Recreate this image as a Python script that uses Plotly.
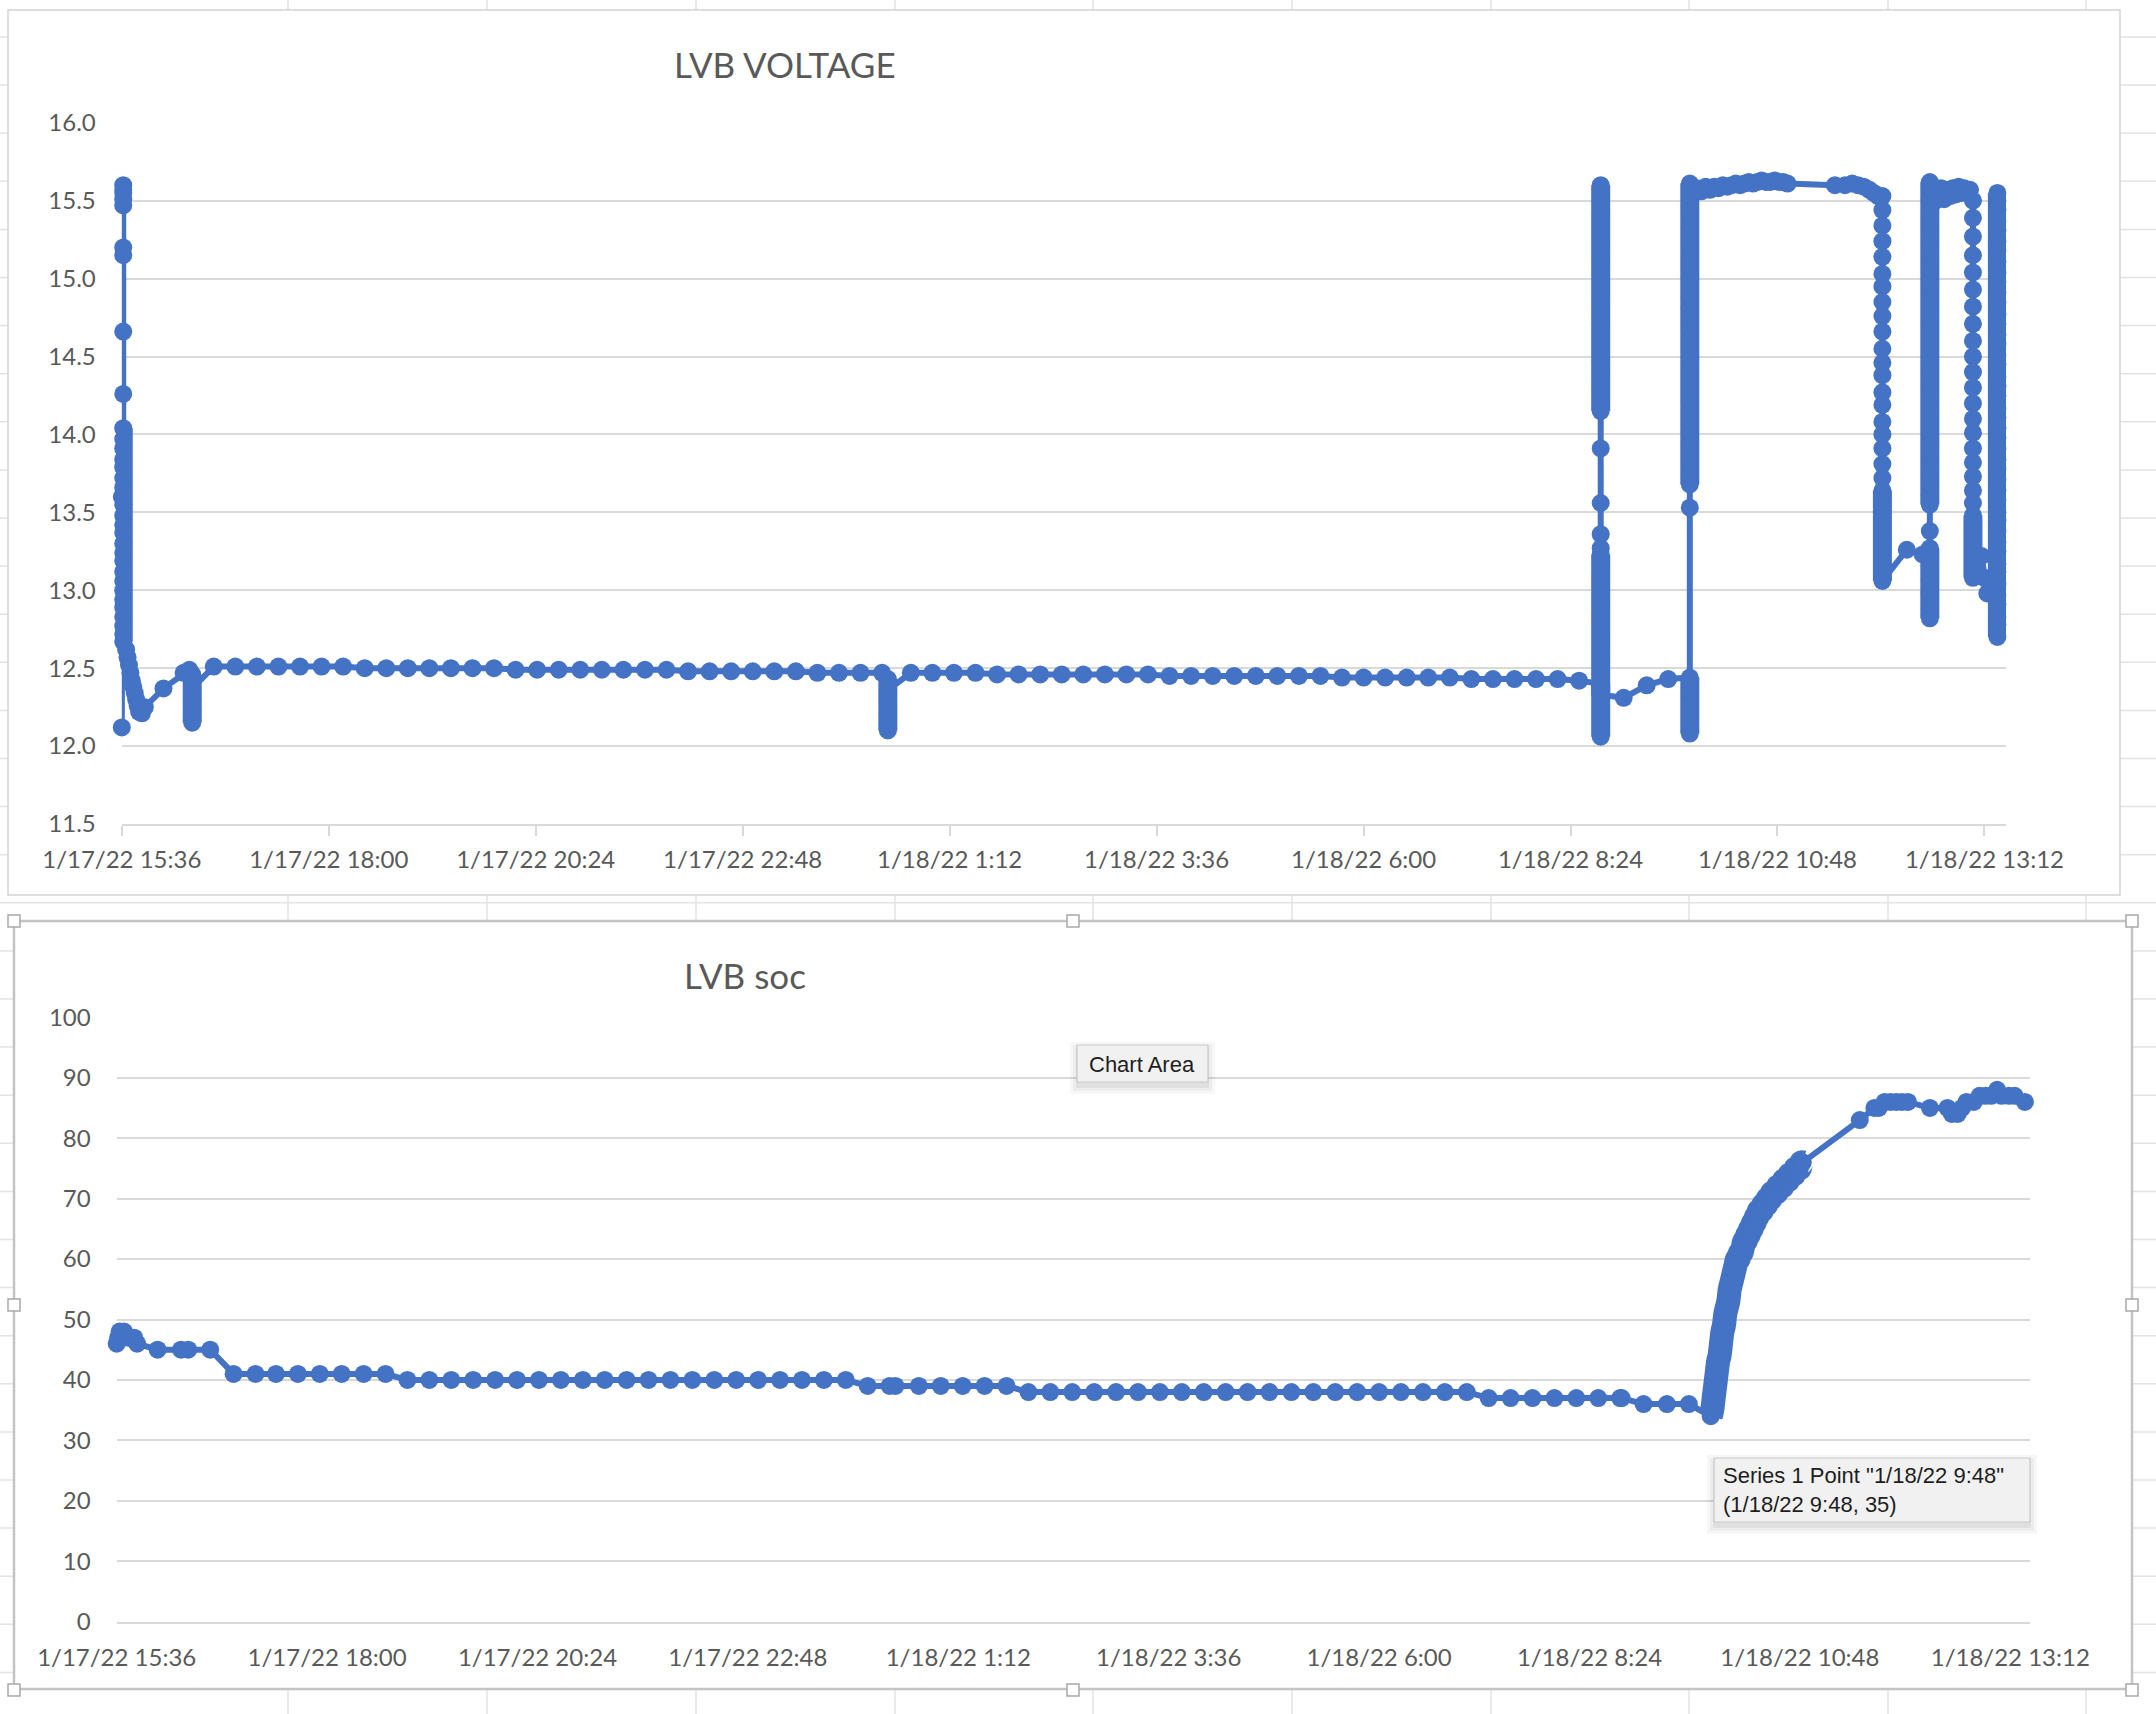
import plotly.graph_objects as go

W, H = 2156, 1714
BLUE = "#4472C4"
GRID = "#d9d9d9"
TXT = "#595959"
FONT = "Lato"

# ---------------- LVB VOLTAGE (V) ----------------
# clock times: hours >= 15 are on 1/17/22, the others on 1/18/22
V_START_T = ["15:36", "15:36"]
V_START_V = [13.60, 12.12]
BURST_1537_SPARSE = [15.47, 15.55, 15.60, 15.57, 15.51, 15.20, 15.15, 14.66, 14.26]
BURST_1537_DENSE = [14.04, 13.97, 13.91, 13.84, 13.79, 13.72, 13.66, 13.61, 13.55, 13.48, 13.42, 13.37,
                    13.30, 13.24, 13.19, 13.12, 13.06, 13.00, 12.94, 12.89, 12.83, 12.77, 12.72, 12.67]
V_DECAY_T = ["15:39", "15:40", "15:41", "15:42", "15:43", "15:44", "15:45", "15:46", "15:47", "15:48",
             "15:50", "15:52", "16:05", "16:19", "16:23"]
V_DECAY_V = [12.62, 12.57, 12.52, 12.47, 12.42, 12.38, 12.34, 12.30, 12.26, 12.22,
             12.21, 12.25, 12.37, 12.47, 12.49]
BURST_1625 = [12.46, 12.41, 12.35, 12.29, 12.24, 12.20, 12.17, 12.15, 12.18, 12.23, 12.30, 12.37]
V_FLAT1_T = ["16:40", "16:55", "17:10", "17:25", "17:40", "17:55", "18:10", "18:25", "18:40", "18:55",
             "19:10", "19:25", "19:40", "19:55", "20:10", "20:25", "20:40", "20:55", "21:10", "21:25",
             "21:40", "21:55", "22:10", "22:25", "22:40", "22:55", "23:10", "23:25", "23:40", "23:55",
             "00:10", "00:25"]
V_FLAT1_V = [12.51, 12.51, 12.51, 12.51, 12.51, 12.51, 12.51, 12.50, 12.50, 12.50,
             12.50, 12.50, 12.50, 12.50, 12.49, 12.49, 12.49, 12.49, 12.49, 12.49,
             12.49, 12.49, 12.48, 12.48, 12.48, 12.48, 12.48, 12.48, 12.47, 12.47,
             12.47, 12.47]
BURST_0029 = [12.43, 12.37, 12.31, 12.25, 12.20, 12.15, 12.11, 12.10, 12.14, 12.21, 12.29, 12.36]
V_FLAT2_T = ["00:45", "01:00", "01:15", "01:30", "01:45", "02:00", "02:15", "02:30", "02:45", "03:00",
             "03:15", "03:30", "03:45", "04:00", "04:15", "04:30", "04:45", "05:00", "05:15", "05:30",
             "05:45", "06:00", "06:15", "06:30", "06:45", "07:00", "07:15", "07:30", "07:45", "08:00",
             "08:15", "08:30"]
V_FLAT2_V = [12.47, 12.47, 12.47, 12.47, 12.46, 12.46, 12.46, 12.46, 12.46, 12.46,
             12.46, 12.46, 12.45, 12.45, 12.45, 12.45, 12.45, 12.45, 12.45, 12.45,
             12.44, 12.44, 12.44, 12.44, 12.44, 12.44, 12.43, 12.43, 12.43, 12.43,
             12.43, 12.42]
BURST_0845_LOW = [12.40, 12.33, 12.27, 12.20, 12.14, 12.09, 12.06]
BURST_0845_HIGH = [15.57, 15.60, 15.54, 15.49, 15.41, 15.35, 15.30, 15.22, 15.16, 15.11, 15.03, 14.97,
                   14.90, 14.84, 14.79, 14.71, 14.65, 14.58, 14.52, 14.47, 14.39, 14.33, 14.26, 14.20,
                   14.15]
BURST_0845_MID = [13.91, 13.56, 13.36, 13.27]
BURST_0845_TAIL = [13.23, 13.17, 13.10, 13.02, 12.97, 12.90, 12.84, 12.77, 12.71, 12.66, 12.58, 12.52,
                   12.46, 12.39, 12.33]
V_MORN_T = ["09:01", "09:17", "09:32"]
V_MORN_V = [12.31, 12.39, 12.43]
BURST_0947_LOW = [12.44, 12.38, 12.32, 12.26, 12.20, 12.15, 12.10, 12.08]
BURST_0947_MID = [13.53]
BURST_0947_HIGH = [13.68, 13.74, 13.82, 13.87, 13.95, 14.02, 14.07, 14.15, 14.22, 14.28, 14.35,
                   14.41, 14.49, 14.55, 14.60, 14.68, 14.75, 14.81, 14.88, 14.94, 15.02, 15.08,
                   15.13, 15.21, 15.28, 15.33, 15.41, 15.47, 15.53, 15.58, 15.61]
V_PLAT1_T = ["09:49", "09:52", "09:55", "09:58", "10:01", "10:04", "10:07", "10:10", "10:13", "10:16",
             "10:19", "10:22", "10:25", "10:28", "10:31", "10:34", "10:37", "10:40", "10:43", "10:46",
             "10:49", "10:52", "10:55", "11:28", "11:35", "11:40", "11:44", "11:48", "11:52", "11:55",
             "11:58"]
V_PLAT1_V = [15.55, 15.58, 15.56, 15.59, 15.57, 15.59, 15.58, 15.60, 15.59, 15.60,
             15.61, 15.60, 15.61, 15.62, 15.61, 15.62, 15.63, 15.62, 15.62, 15.63,
             15.62, 15.62, 15.61, 15.60, 15.60, 15.61, 15.60, 15.59, 15.57, 15.55,
             15.53]
BURST_1201_BEADS = [15.53, 15.44, 15.34, 15.24, 15.14, 15.03, 14.95, 14.85, 14.76, 14.66, 14.55, 14.46,
                    14.38, 14.27, 14.19, 14.08, 14.00, 13.91, 13.81, 13.72]
BURST_1201_DENSE = [13.64, 13.57, 13.50, 13.44, 13.37, 13.31, 13.25, 13.19, 13.13, 13.09, 13.06]
V_MID_T = ["12:18", "12:29"]
V_MID_V = [13.26, 13.23]
BURST_1234_LOW = [13.16, 13.07, 12.98, 12.90, 12.84, 12.82, 12.88, 12.97, 13.06, 13.15, 13.22, 13.27]
BURST_1234_MID = [13.38]
BURST_1234_HIGH = [13.55, 13.61, 13.69, 13.75, 13.82, 13.88, 13.96, 14.03, 14.08, 14.16, 14.22,
                   14.29, 14.37, 14.42, 14.50, 14.57, 14.63, 14.70, 14.76, 14.84, 14.90, 14.97, 15.05,
                   15.10, 15.18, 15.24, 15.31, 15.38, 15.44, 15.51, 15.57, 15.62]
V_PLAT2_T = ["12:35", "12:36", "12:38", "12:40", "12:42", "12:44", "12:46", "12:48", "12:50", "12:52",
             "12:54", "12:56", "12:58", "13:00", "13:02"]
V_PLAT2_V = [15.58, 15.49, 15.50, 15.52, 15.58, 15.51, 15.57, 15.53, 15.58, 15.54,
             15.59, 15.55, 15.58, 15.56, 15.57]
BURST_1304_BEADS = [15.50, 15.39, 15.27, 15.15, 15.04, 14.93, 14.82, 14.71, 14.60, 14.50, 14.40, 14.30,
                    14.20, 14.10, 14.01, 13.91, 13.82, 13.73, 13.64, 13.56]
BURST_1304_DENSE = [13.48, 13.41, 13.34, 13.27, 13.21, 13.15, 13.10, 13.08]
V_LATE_T = ["13:10", "13:12", "13:14", "13:16"]
V_LATE_V = [13.22, 13.08, 12.98, 13.03]
BURST_1321 = [12.70, 12.78, 12.83, 12.91, 12.97, 13.04, 13.12, 13.17, 13.25, 13.31, 13.38, 13.45,
              13.50, 13.58, 13.64, 13.71, 13.78, 13.84, 13.91, 13.98, 14.04, 14.11, 14.17, 14.25,
              14.31, 14.37, 14.45, 14.51, 14.58, 14.64, 14.71, 14.77, 14.85, 14.91, 14.98, 15.04,
              15.11, 15.18, 15.24, 15.31, 15.37, 15.44, 15.50, 15.55]

# ---------------- LVB soc (%) ----------------
S_START_T = ["15:36", "15:37", "15:38", "15:41", "15:44", "15:48", "15:50", "16:04", "16:20", "16:25", "16:40"]
S_START_V = [46, 47, 48, 48, 47, 47, 46, 45, 45, 45, 45]
S_EVE_T = ["16:56", "17:11", "17:25", "17:40", "17:55", "18:10", "18:25", "18:40",
           "18:55", "19:10", "19:25", "19:40", "19:55", "20:10", "20:25", "20:40", "20:55", "21:10",
           "21:25", "21:40", "21:55", "22:10", "22:25", "22:40", "22:55", "23:10", "23:25", "23:40",
           "23:55"]
S_EVE_V = [41, 41, 41, 41, 41, 41, 41, 41,
           40, 40, 40, 40, 40, 40, 40, 40, 40, 40,
           40, 40, 40, 40, 40, 40, 40, 40, 40, 40,
           40]
S_NIGHT_T = ["00:10", "00:25", "00:29", "00:45", "01:00", "01:15", "01:30", "01:45",
             "02:00", "02:15", "02:30", "02:45", "03:00", "03:15", "03:30", "03:45", "04:00", "04:15",
             "04:30", "04:45", "05:00", "05:15", "05:30", "05:45", "06:00", "06:15", "06:30", "06:45",
             "07:00", "07:15", "07:30", "07:45", "08:00", "08:15", "08:30", "08:45", "08:46",
             "09:01", "09:17", "09:32"]
S_NIGHT_V = [39, 39, 39, 39, 39, 39, 39, 39,
             38, 38, 38, 38, 38, 38, 38, 38, 38, 38,
             38, 38, 38, 38, 38, 38, 38, 38, 38, 38,
             38, 37, 37, 37, 37, 37, 37, 37, 37,
             36, 36, 36]
S_RISE_T = ["09:47", "09:48", "09:49", "09:50", "09:51", "09:52", "09:53", "09:54", "09:55", "09:56",
            "09:57", "09:58", "09:59", "10:00", "10:01", "10:02", "10:03", "10:04", "10:05", "10:06",
            "10:07", "10:08", "10:09", "10:10", "10:11", "10:12", "10:13", "10:14", "10:15", "10:16",
            "10:17", "10:18", "10:19", "10:20", "10:21", "10:22", "10:23", "10:24", "10:25", "10:26",
            "10:27", "10:28", "10:29", "10:30", "10:31", "10:32", "10:33", "10:34", "10:35", "10:36",
            "10:37", "10:38", "10:39", "10:40", "10:41", "10:42", "10:43", "10:44", "10:45", "10:46",
            "10:47", "10:48", "10:49", "10:50"]
S_RISE_V = [34, 35, 37, 39, 41, 43, 44, 46, 48, 49,
            51, 52, 53, 55, 56, 57, 58, 59, 60, 60,
            61, 61, 62, 63, 63, 64, 64, 65, 65, 66,
            66, 67, 67, 68, 68, 68, 69, 69, 69, 70,
            70, 70, 71, 71, 71, 71, 72, 72, 72, 72,
            73, 73, 73, 73, 74, 74, 74, 74, 75, 75,
            75, 75, 76, 76]
S_END_T = ["11:29", "11:39", "11:42", "11:46", "11:50", "11:54", "11:58", "12:02", "12:17", "12:29",
           "12:32", "12:36", "12:39", "12:42", "12:47", "12:51", "12:55", "12:59", "13:03", "13:06",
           "13:11", "13:15", "13:22"]
S_END_V = [83, 85, 85, 86, 86, 86, 86, 86, 85, 85,
           84, 84, 85, 86, 86, 87, 87, 87, 88, 87,
           87, 87, 86]

# ---------------- axis labels ----------------
TICK_TIMES = ["15:36", "18:00", "20:24", "22:48", "01:12", "03:36", "06:00", "08:24", "10:48", "13:12"]
TICK_TEXT = ["1/17/22 15:36", "1/17/22 18:00", "1/17/22 20:24", "1/17/22 22:48", "1/18/22 1:12",
             "1/18/22 3:36", "1/18/22 6:00", "1/18/22 8:24", "1/18/22 10:48", "1/18/22 13:12"]
TITLE_V = "LVB VOLTAGE"
TITLE_S = "LVB soc"


def stamp(c):
    hh = int(c.split(":")[0])
    day = "2022-01-17" if hh >= 15 else "2022-01-18"
    if c.count(":") == 1:
        c = c + ":00"
    return f"{day} {c}"


def burst(t, vals, dense):
    return [t] * len(vals), vals, dense


volt_pieces = [
    (V_START_T, V_START_V, False),
    burst("15:37", BURST_1537_SPARSE, False), burst("15:37", BURST_1537_DENSE, True),
    (V_DECAY_T, V_DECAY_V, False),
    burst("16:25", BURST_1625, True), (V_FLAT1_T, V_FLAT1_V, False), burst("00:29", BURST_0029, True),
    (V_FLAT2_T, V_FLAT2_V, False),
    burst("08:45", BURST_0845_LOW, True), burst("08:45", BURST_0845_HIGH, True),
    burst("08:45", BURST_0845_MID, False), burst("08:45", BURST_0845_TAIL, True),
    (V_MORN_T, V_MORN_V, False),
    burst("09:47", BURST_0947_LOW, True), burst("09:47", BURST_0947_MID, False),
    burst("09:47", BURST_0947_HIGH, True),
    (V_PLAT1_T, V_PLAT1_V, False),
    burst("12:01", BURST_1201_BEADS, False), burst("12:01", BURST_1201_DENSE, True),
    (V_MID_T, V_MID_V, False),
    burst("12:34", BURST_1234_LOW, True), burst("12:34", BURST_1234_MID, False),
    burst("12:34", BURST_1234_HIGH, True),
    (V_PLAT2_T, V_PLAT2_V, False),
    burst("13:04", BURST_1304_BEADS, False), burst("13:04", BURST_1304_DENSE, True),
    (V_LATE_T, V_LATE_V, False), burst("13:21", BURST_1321, True),
]
vx, vy = [], []
dense_runs = []
for ts, vs, dense in volt_pieces:
    xs = [stamp(t) for t in ts]
    vx += xs
    vy += list(vs)
    if dense:
        dense_runs.append((xs[0], min(vs), max(vs)))

soc_pieces = [(S_START_T, S_START_V), (S_EVE_T, S_EVE_V), (S_NIGHT_T, S_NIGHT_V),
              (S_RISE_T, S_RISE_V), (S_END_T, S_END_V)]
sx, sy = [], []
for ts, vs in soc_pieces:
    sx += [stamp(t) for t in ts]
    sy += list(vs)
rx = [stamp(t) for t in S_RISE_T]

tickvals = [stamp(t) for t in TICK_TIMES]


def px(x):
    return x / W


def py(y):
    return 1 - y / H


MS = 18
LW = 6
fig = go.Figure()
# dense bursts of readings (same minute) merge into solid bands: drawn as thick vertical spans
for t0, lo, hi in dense_runs:
    fig.add_trace(go.Scatter(x=[t0, t0], y=[lo, hi], mode="lines", xaxis="x", yaxis="y",
                             line=dict(color=BLUE, width=MS + 1), cliponaxis=False, hoverinfo="skip"))
fig.add_trace(go.Scatter(x=vx, y=vy, mode="lines+markers", xaxis="x", yaxis="y",
                         line=dict(color=BLUE, width=LW), marker=dict(size=MS, color=BLUE),
                         cliponaxis=False, hoverinfo="skip"))
fig.add_trace(go.Scatter(x=rx, y=S_RISE_V, mode="lines", xaxis="x2", yaxis="y2",
                         line=dict(color=BLUE, width=MS + 6, shape="spline", smoothing=1.0),
                         cliponaxis=False, hoverinfo="skip"))
fig.add_trace(go.Scatter(x=sx, y=sy, mode="lines+markers", xaxis="x2", yaxis="y2",
                         line=dict(color=BLUE, width=LW), marker=dict(size=MS, color=BLUE),
                         cliponaxis=False, hoverinfo="skip"))

tickfont = dict(family=FONT, size=24, color=TXT)

fig.update_layout(
    width=W, height=H, margin=dict(l=0, r=0, t=0, b=0, pad=0, autoexpand=False),
    paper_bgcolor="white", plot_bgcolor="rgba(0,0,0,0)", showlegend=False,
    xaxis=dict(domain=[px(121.8), px(2006)], anchor="y", type="date", automargin=False,
               range=[stamp("15:36"), stamp("13:27")],
               tickmode="array", tickvals=tickvals, ticktext=TICK_TEXT,
               ticks="outside", ticklen=10, tickwidth=1.5, tickcolor=GRID,
               showgrid=False, zeroline=False, showline=True, linecolor=GRID, linewidth=1.5,
               tickfont=tickfont, ticklabelstandoff=3, fixedrange=True),
    yaxis=dict(domain=[py(824), py(122.8)], anchor="x", range=[11.5, 16.0], automargin=False,
               tickmode="linear", tick0=11.5, dtick=0.5, tickformat=".1f",
               showgrid=True, gridcolor=GRID, gridwidth=1.5, zeroline=False, showline=False,
               ticks="", tickfont=tickfont, ticklabelstandoff=25, fixedrange=True),
    xaxis2=dict(domain=[px(116.7), px(2030)], anchor="y2", type="date", automargin=False,
                range=[stamp("15:36"), stamp("13:25:30")],
                tickmode="array", tickvals=tickvals, ticktext=TICK_TEXT,
                ticks="", showgrid=False, zeroline=False, showline=True, linecolor=GRID,
                linewidth=1.5, tickfont=tickfont, ticklabelstandoff=14, fixedrange=True),
    yaxis2=dict(domain=[py(1621.7), py(1017.3)], anchor="x2", range=[0, 100], automargin=False,
                tickmode="linear", tick0=0, dtick=10,
                showgrid=True, gridcolor=GRID, gridwidth=1.5, zeroline=False, showline=False,
                ticks="", tickfont=tickfont, ticklabelstandoff=25, fixedrange=True),
)

shapes = []
# spreadsheet cell lines behind the charts
SHEET = "#e3e3e3"
for cx in [288, 487, 696, 895, 1093, 1292, 1491, 1689, 1888, 2086]:
    shapes.append(dict(type="line", xref="paper", yref="paper", x0=px(cx), x1=px(cx), y0=0, y1=1,
                       line=dict(color=SHEET, width=1.5), layer="below"))
ry = 37.0
while ry < H:
    shapes.append(dict(type="line", xref="paper", yref="paper", x0=0, x1=1, y0=py(ry), y1=py(ry),
                       line=dict(color=SHEET, width=1.5), layer="below"))
    ry += 48.1
# chart areas
shapes.append(dict(type="rect", xref="paper", yref="paper", x0=px(8), x1=px(2120), y0=py(895), y1=py(10),
                   fillcolor="white", line=dict(color="#d4d4d4", width=1.5), layer="below"))
shapes.append(dict(type="rect", xref="paper", yref="paper", x0=px(14), x1=px(2132), y0=py(1689), y1=py(921),
                   fillcolor="white", line=dict(color="#c4c4c4", width=2.5), layer="below"))
# selection handles of the lower chart
for hx, hy in [(14, 921), (1073, 921), (2132, 921), (14, 1305), (2132, 1305),
               (14, 1690), (1073, 1690), (2132, 1690)]:
    shapes.append(dict(type="rect", xref="paper", yref="paper", x0=px(hx - 6), x1=px(hx + 6),
                       y0=py(hy + 6), y1=py(hy - 6), fillcolor="white",
                       line=dict(color="#a8a8a8", width=1.5), layer="above"))
# tooltip boxes with soft shadows
for (x0, y0, x1, y1) in [(1077, 1045, 1208, 1082), (1714, 1458, 2030, 1522)]:
    for k, op in [(9, 0.03), (6, 0.04), (3, 0.06)]:
        shapes.append(dict(type="rect", xref="paper", yref="paper", x0=px(x0 - k + 2), x1=px(x1 + k - 2),
                           y0=py(y1 + k + 3), y1=py(y0 - k + 6), fillcolor=f"rgba(0,0,0,{op})",
                           line=dict(width=0), layer="above"))
    shapes.append(dict(type="rect", xref="paper", yref="paper", x0=px(x0), x1=px(x1), y0=py(y1), y1=py(y0),
                       fillcolor="#f1f1f1", line=dict(color="#c9c9c9", width=1.2), layer="above"))
fig.update_layout(shapes=shapes)

fig.update_layout(annotations=[
    dict(text=TITLE_V, xref="paper", yref="paper", x=px(785), y=py(64), xanchor="center", yanchor="middle",
         showarrow=False, font=dict(family=FONT, size=35, color=TXT)),
    dict(text=TITLE_S, xref="paper", yref="paper", x=px(745), y=py(975), xanchor="center", yanchor="middle",
         showarrow=False, font=dict(family=FONT, size=35, color=TXT)),
    dict(text="Chart Area", xref="paper", yref="paper", x=px(1142), y=py(1064), xanchor="center",
         yanchor="middle", showarrow=False, font=dict(family="Liberation Sans", size=22, color="#1e1e1e")),
    dict(text="Series 1 Point \"1/18/22 9:48\"<br>(1/18/22 9:48, 35)", xref="paper", yref="paper",
         x=px(1721), y=py(1490), xanchor="left", yanchor="middle", align="left", showarrow=False,
         font=dict(family="Liberation Sans", size=22, color="#1e1e1e")),
])

fig.write_html("out.html", config={"displayModeBar": False},
               post_script="document.body.style.margin='0';document.body.style.overflow='hidden';")
